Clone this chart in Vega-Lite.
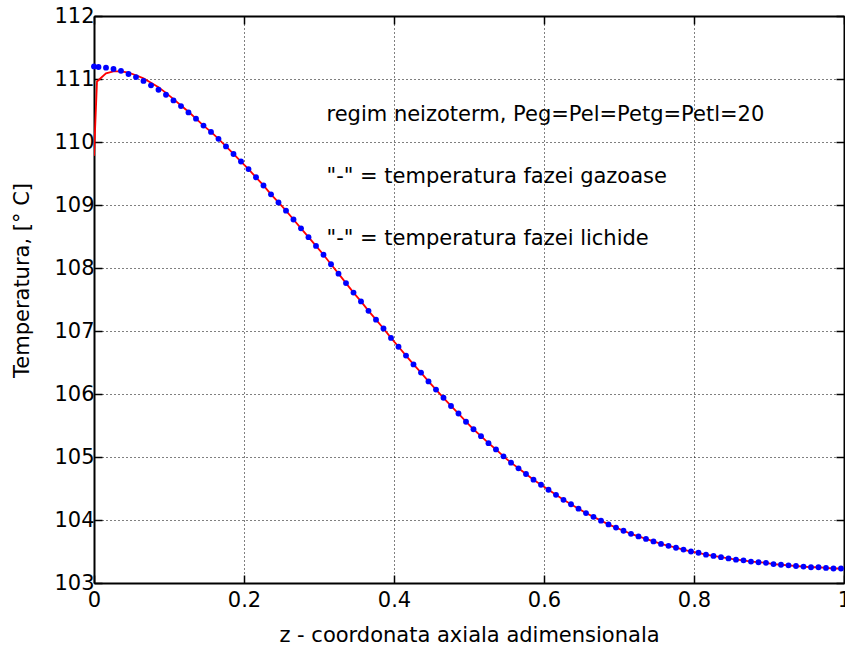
{
  "$schema": "https://vega.github.io/schema/vega-lite/v6.json",
  "width": 750,
  "height": 567,
  "autosize": {"type": "none"},
  "padding": {"left": 94, "top": 16, "right": 1, "bottom": 63},
  "background": "white",
  "config": {
    "font": "DejaVu Sans",
    "view": {"stroke": null},
    "axis": {
      "labelFont": "DejaVu Sans",
      "labelFontSize": 21,
      "labelColor": "black",
      "titleFont": "DejaVu Sans",
      "titleFontSize": 21,
      "titleFontWeight": "normal",
      "titleColor": "black",
      "domainColor": "black",
      "domainWidth": 2,
      "tickColor": "black",
      "tickWidth": 1.5,
      "tickSize": -8,
      "gridColor": "black",
      "gridDash": [1, 3],
      "gridOpacity": 1,
      "gridWidth": 1
    }
  },
  "datasets": {
    "liquid": [
      {"z": 0, "T": 111.20}, {"z": 0.006, "T": 111.19}, {"z": 0.016, "T": 111.18}, {"z": 0.026, "T": 111.16},
      {"z": 0.036, "T": 111.13}, {"z": 0.046, "T": 111.08}, {"z": 0.056, "T": 111.03}, {"z": 0.066, "T": 110.97},
      {"z": 0.076, "T": 110.90}, {"z": 0.086, "T": 110.83}, {"z": 0.096, "T": 110.75}, {"z": 0.106, "T": 110.66},
      {"z": 0.116, "T": 110.57}, {"z": 0.126, "T": 110.47}, {"z": 0.136, "T": 110.37}, {"z": 0.146, "T": 110.26},
      {"z": 0.156, "T": 110.16}, {"z": 0.166, "T": 110.05}, {"z": 0.176, "T": 109.93}, {"z": 0.186, "T": 109.81},
      {"z": 0.196, "T": 109.69}, {"z": 0.206, "T": 109.57}, {"z": 0.216, "T": 109.44}, {"z": 0.226, "T": 109.31},
      {"z": 0.236, "T": 109.17}, {"z": 0.246, "T": 109.04}, {"z": 0.256, "T": 108.91}, {"z": 0.266, "T": 108.77},
      {"z": 0.276, "T": 108.63}, {"z": 0.286, "T": 108.49}, {"z": 0.296, "T": 108.35}, {"z": 0.306, "T": 108.21},
      {"z": 0.316, "T": 108.06}, {"z": 0.326, "T": 107.91}, {"z": 0.336, "T": 107.76}, {"z": 0.346, "T": 107.61},
      {"z": 0.356, "T": 107.47}, {"z": 0.366, "T": 107.32}, {"z": 0.376, "T": 107.18}, {"z": 0.386, "T": 107.04},
      {"z": 0.396, "T": 106.89}, {"z": 0.406, "T": 106.75}, {"z": 0.416, "T": 106.61}, {"z": 0.426, "T": 106.47},
      {"z": 0.436, "T": 106.34}, {"z": 0.446, "T": 106.20}, {"z": 0.456, "T": 106.07}, {"z": 0.466, "T": 105.94},
      {"z": 0.476, "T": 105.81}, {"z": 0.486, "T": 105.69}, {"z": 0.496, "T": 105.56}, {"z": 0.506, "T": 105.44},
      {"z": 0.516, "T": 105.33}, {"z": 0.526, "T": 105.22}, {"z": 0.536, "T": 105.12}, {"z": 0.546, "T": 105.01},
      {"z": 0.556, "T": 104.91}, {"z": 0.566, "T": 104.82}, {"z": 0.576, "T": 104.73}, {"z": 0.586, "T": 104.64},
      {"z": 0.596, "T": 104.56}, {"z": 0.606, "T": 104.48}, {"z": 0.616, "T": 104.40}, {"z": 0.626, "T": 104.32},
      {"z": 0.636, "T": 104.25}, {"z": 0.646, "T": 104.18}, {"z": 0.656, "T": 104.11}, {"z": 0.666, "T": 104.05},
      {"z": 0.676, "T": 103.99}, {"z": 0.686, "T": 103.93}, {"z": 0.696, "T": 103.88}, {"z": 0.706, "T": 103.83},
      {"z": 0.716, "T": 103.78}, {"z": 0.726, "T": 103.74}, {"z": 0.736, "T": 103.70}, {"z": 0.746, "T": 103.66},
      {"z": 0.756, "T": 103.62}, {"z": 0.766, "T": 103.59}, {"z": 0.776, "T": 103.56}, {"z": 0.786, "T": 103.53},
      {"z": 0.796, "T": 103.50}, {"z": 0.806, "T": 103.48}, {"z": 0.816, "T": 103.45}, {"z": 0.826, "T": 103.43},
      {"z": 0.836, "T": 103.41}, {"z": 0.846, "T": 103.39}, {"z": 0.856, "T": 103.37}, {"z": 0.866, "T": 103.36},
      {"z": 0.876, "T": 103.34}, {"z": 0.886, "T": 103.33}, {"z": 0.896, "T": 103.32}, {"z": 0.906, "T": 103.30},
      {"z": 0.916, "T": 103.29}, {"z": 0.926, "T": 103.28}, {"z": 0.936, "T": 103.27}, {"z": 0.946, "T": 103.26},
      {"z": 0.956, "T": 103.25}, {"z": 0.966, "T": 103.25}, {"z": 0.976, "T": 103.24}, {"z": 0.986, "T": 103.23},
      {"z": 0.996, "T": 103.23}
    ],
    "gas": [
      {"z": 0, "T": 109.78}, {"z": 0.004, "T": 110.96}, {"z": 0.016, "T": 111.09}, {"z": 0.026, "T": 111.12},
      {"z": 0.036, "T": 111.12}, {"z": 0.046, "T": 111.10}, {"z": 0.056, "T": 111.06}, {"z": 0.066, "T": 111.01},
      {"z": 0.076, "T": 110.94}, {"z": 0.086, "T": 110.87}, {"z": 0.096, "T": 110.78}, {"z": 0.106, "T": 110.68},
      {"z": 0.116, "T": 110.58}, {"z": 0.126, "T": 110.48}, {"z": 0.136, "T": 110.37}, {"z": 0.146, "T": 110.26},
      {"z": 0.156, "T": 110.16}, {"z": 0.166, "T": 110.05}, {"z": 0.176, "T": 109.93}, {"z": 0.186, "T": 109.81},
      {"z": 0.196, "T": 109.69}, {"z": 0.206, "T": 109.57}, {"z": 0.216, "T": 109.44}, {"z": 0.226, "T": 109.31},
      {"z": 0.236, "T": 109.17}, {"z": 0.246, "T": 109.04}, {"z": 0.256, "T": 108.91}, {"z": 0.266, "T": 108.77},
      {"z": 0.276, "T": 108.63}, {"z": 0.286, "T": 108.49}, {"z": 0.296, "T": 108.35}, {"z": 0.306, "T": 108.21},
      {"z": 0.316, "T": 108.06}, {"z": 0.326, "T": 107.91}, {"z": 0.336, "T": 107.76}, {"z": 0.346, "T": 107.61},
      {"z": 0.356, "T": 107.47}, {"z": 0.366, "T": 107.32}, {"z": 0.376, "T": 107.18}, {"z": 0.386, "T": 107.04},
      {"z": 0.396, "T": 106.89}, {"z": 0.406, "T": 106.75}, {"z": 0.416, "T": 106.61}, {"z": 0.426, "T": 106.47},
      {"z": 0.436, "T": 106.34}, {"z": 0.446, "T": 106.20}, {"z": 0.456, "T": 106.07}, {"z": 0.466, "T": 105.94},
      {"z": 0.476, "T": 105.81}, {"z": 0.486, "T": 105.69}, {"z": 0.496, "T": 105.56}, {"z": 0.506, "T": 105.44},
      {"z": 0.516, "T": 105.33}, {"z": 0.526, "T": 105.22}, {"z": 0.536, "T": 105.12}, {"z": 0.546, "T": 105.01},
      {"z": 0.556, "T": 104.91}, {"z": 0.566, "T": 104.82}, {"z": 0.576, "T": 104.73}, {"z": 0.586, "T": 104.64},
      {"z": 0.596, "T": 104.56}, {"z": 0.606, "T": 104.48}, {"z": 0.616, "T": 104.40}, {"z": 0.626, "T": 104.32},
      {"z": 0.636, "T": 104.25}, {"z": 0.646, "T": 104.18}, {"z": 0.656, "T": 104.11}, {"z": 0.666, "T": 104.05},
      {"z": 0.676, "T": 103.99}, {"z": 0.686, "T": 103.93}, {"z": 0.696, "T": 103.88}, {"z": 0.706, "T": 103.83},
      {"z": 0.716, "T": 103.78}, {"z": 0.726, "T": 103.74}, {"z": 0.736, "T": 103.70}, {"z": 0.746, "T": 103.66},
      {"z": 0.756, "T": 103.62}, {"z": 0.766, "T": 103.59}, {"z": 0.776, "T": 103.56}, {"z": 0.786, "T": 103.53},
      {"z": 0.796, "T": 103.50}, {"z": 0.806, "T": 103.48}, {"z": 0.816, "T": 103.45}, {"z": 0.826, "T": 103.43},
      {"z": 0.836, "T": 103.41}, {"z": 0.846, "T": 103.39}, {"z": 0.856, "T": 103.37}, {"z": 0.866, "T": 103.36},
      {"z": 0.876, "T": 103.34}, {"z": 0.886, "T": 103.33}, {"z": 0.896, "T": 103.32}, {"z": 0.906, "T": 103.30},
      {"z": 0.916, "T": 103.29}, {"z": 0.926, "T": 103.28}, {"z": 0.936, "T": 103.27}, {"z": 0.946, "T": 103.26},
      {"z": 0.956, "T": 103.25}, {"z": 0.966, "T": 103.25}, {"z": 0.976, "T": 103.24}, {"z": 0.986, "T": 103.23},
      {"z": 0.996, "T": 103.23}
    ],
    "notes": [
      {"z": 0.31, "T": 110.34, "label": "regim neizoterm, Peg=Pel=Petg=Petl=20"},
      {"z": 0.31, "T": 109.344, "label": "\"-\" = temperatura fazei gazoase"},
      {"z": 0.31, "T": 108.365, "label": "\"-\" = temperatura fazei lichide"}
    ]
  },
  "layer": [
    {
      "data": {"name": "gas"},
      "mark": {"type": "line", "color": "#ff0000", "strokeWidth": 1.8, "clip": true},
      "encoding": {
        "x": {
          "field": "z", "type": "quantitative",
          "scale": {"domain": [0, 1], "nice": false, "zero": false},
          "axis": {
            "orient": "bottom", "values": [0, 0.2, 0.4, 0.6, 0.8, 1], "format": "~g",
            "grid": true, "labelPadding": 14, "labelFlush": false, "labelOverlap": false,
            "title": "z - coordonata axiala adimensionala",
            "titleY": 58, "titleBaseline": "alphabetic"
          }
        },
        "y": {
          "field": "T", "type": "quantitative",
          "scale": {"domain": [103, 112], "nice": false, "zero": false},
          "axis": {
            "orient": "left", "values": [103, 104, 105, 106, 107, 108, 109, 110, 111, 112], "format": "d",
            "grid": true, "labelPadding": 8, "labelFlush": false, "labelOverlap": false,
            "title": "Temperatura, [° C]",
            "titleX": -72, "titleY": 264, "titleAngle": 270, "titleAlign": "center", "titleBaseline": "middle"
          }
        }
      }
    },
    {
      "data": {"name": "liquid"},
      "mark": {"type": "point", "shape": "circle", "filled": true, "color": "#0000ff", "size": 34, "opacity": 1},
      "encoding": {
        "x": {
          "field": "z", "type": "quantitative",
          "scale": {"domain": [0, 1], "nice": false, "zero": false},
          "axis": {"orient": "top", "values": [0, 0.2, 0.4, 0.6, 0.8, 1], "labels": false, "grid": false, "title": null}
        },
        "y": {
          "field": "T", "type": "quantitative",
          "scale": {"domain": [103, 112], "nice": false, "zero": false},
          "axis": {"orient": "right", "values": [103, 104, 105, 106, 107, 108, 109, 110, 111, 112], "labels": false, "grid": false, "title": null}
        }
      }
    },
    {
      "data": {"name": "notes"},
      "mark": {"type": "text", "align": "left", "baseline": "alphabetic", "fontSize": 21, "font": "DejaVu Sans", "color": "black"},
      "encoding": {
        "x": {"field": "z", "type": "quantitative", "axis": null},
        "y": {"field": "T", "type": "quantitative", "axis": null},
        "text": {"field": "label", "type": "nominal"}
      }
    }
  ],
  "resolve": {"axis": {"x": "independent", "y": "independent"}}
}
